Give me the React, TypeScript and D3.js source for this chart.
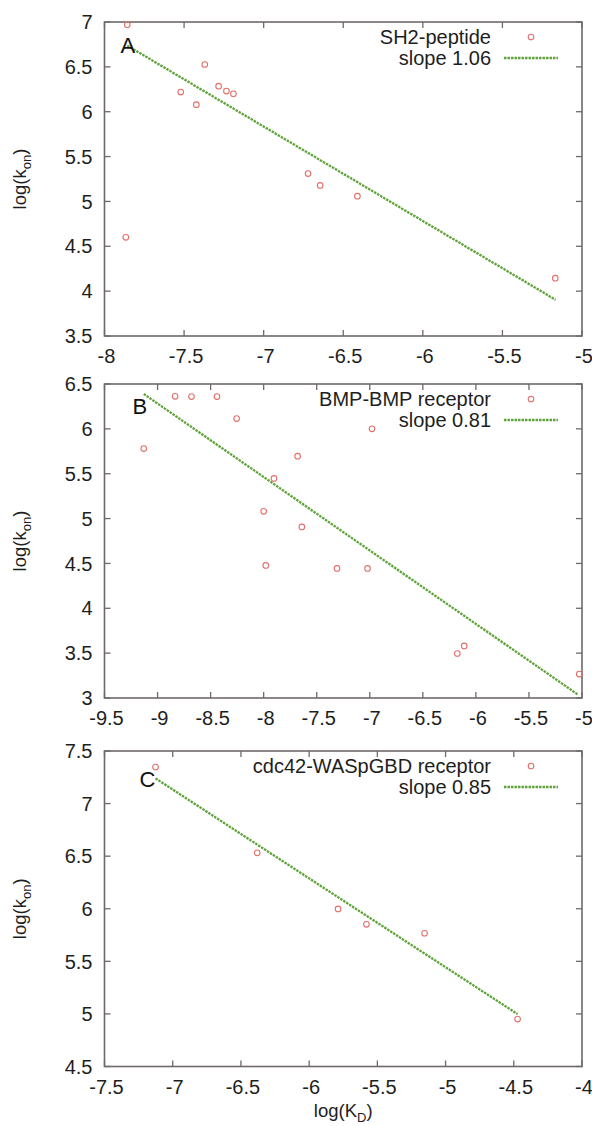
import React from "react";
import * as d3 from "d3";

// ---------- data ----------
const aX = [-7.857, -7.866, -7.521, -7.423, -7.37, -7.283, -7.234, -7.19, -6.721, -6.645, -6.411, -5.168];
const aY = [6.97, 4.6, 6.219, 6.078, 6.526, 6.285, 6.23, 6.2, 5.311, 5.178, 5.059, 4.144];
const aLineX = [-7.857, -5.166];
const aLineY = [6.737, 3.904];

const bX = [-9.13, -8.835, -8.68, -8.44, -8.255, -6.979, -7.68, -7.903, -8.0, -7.64, -7.98, -7.309, -7.021, -6.175, -6.11, -5.026];
const bY = [5.78, 6.363, 6.36, 6.36, 6.115, 6.0, 5.696, 5.448, 5.081, 4.907, 4.478, 4.444, 4.444, 3.496, 3.581, 3.267];
const bLineX = [-9.13, -5.037];
const bLineY = [6.389, 3.037];

const cX = [-7.126, -6.381, -5.788, -5.58, -5.154, -4.472];
const cY = [7.348, 6.532, 5.998, 5.852, 5.767, 4.951];
const cLineX = [-7.126, -4.472];
const cLineY = [7.24, 4.998];

const aXTicks = [-8, -7.5, -7, -6.5, -6, -5.5, -5];
const aYTicks = [3.5, 4, 4.5, 5, 5.5, 6, 6.5, 7];
const bXTicks = [-9.5, -9, -8.5, -8, -7.5, -7, -6.5, -6, -5.5, -5];
const bYTicks = [3, 3.5, 4, 4.5, 5, 5.5, 6, 6.5];
const cXTicks = [-7.5, -7, -6.5, -6, -5.5, -5, -4.5, -4];
const cYTicks = [4.5, 5, 5.5, 6, 6.5, 7, 7.5];

const labels = ["A", "B", "C"];
const seriesNames = ["SH2-peptide", "BMP-BMP receptor", "cdc42-WASpGBD receptor"];
const slopeNames = ["slope 1.06", "slope 0.81", "slope 0.85"];

// ---------- style ----------
const FONT = "'Liberation Sans', Arial, Helvetica, sans-serif";
const TEXT = "#1e1e1e";
const FRAME = "#6f6a68";
const POINT = "#e4706a";
const LINE = "#5fa43a";

type Panel = {
  xs: number[]; ys: number[]; lx: number[]; ly: number[];
  xt: number[]; yt: number[]; top: number; bottom: number;
  label: string; name: string; slope: string;
};

const LEFT = 104.5;
const RIGHT = 582;

const panels: Panel[] = [
  { xs: aX, ys: aY, lx: aLineX, ly: aLineY, xt: aXTicks, yt: aYTicks, top: 22, bottom: 336, label: labels[0], name: seriesNames[0], slope: slopeNames[0] },
  { xs: bX, ys: bY, lx: bLineX, ly: bLineY, xt: bXTicks, yt: bYTicks, top: 384, bottom: 698, label: labels[1], name: seriesNames[1], slope: slopeNames[1] },
  { xs: cX, ys: cY, lx: cLineX, ly: cLineY, xt: cXTicks, yt: cYTicks, top: 751, bottom: 1066.5, label: labels[2], name: seriesNames[2], slope: slopeNames[2] },
];

const labelOffsets = [
  { dx: 16, dy: 31 },
  { dx: 28, dy: 30 },
  { dx: 35, dy: 36 },
];

function PanelView({ p, idx }: { p: Panel; idx: number }) {
  const xd = [p.xt[0], p.xt[p.xt.length - 1]];
  const yd = [p.yt[0], p.yt[p.yt.length - 1]];
  const x = d3.scaleLinear().domain(xd).range([LEFT, RIGHT]);
  const y = d3.scaleLinear().domain(yd).range([p.bottom, p.top]);
  const line = d3.line<number>().x((_, i) => x(p.lx[i])).y((_, i) => y(p.ly[i]));
  const tl = 6;
  const lo = labelOffsets[idx];
  const midY = (p.top + p.bottom) / 2;
  return (
    <g>
      {p.xt.map((t, i) => (
        <g key={"xt" + i}>
          <line x1={x(t)} x2={x(t)} y1={p.bottom} y2={p.bottom - tl} stroke={FRAME} strokeWidth={1.3} />
          <line x1={x(t)} x2={x(t)} y1={p.top} y2={p.top + tl} stroke={FRAME} strokeWidth={1.3} />
          <text x={x(t) + 2} y={p.bottom + 27} textAnchor="middle" fontSize={20} fill={TEXT} fontFamily={FONT}>{String(t)}</text>
        </g>
      ))}
      {p.yt.map((t, i) => (
        <g key={"yt" + i}>
          <line x1={LEFT} x2={LEFT + tl} y1={y(t)} y2={y(t)} stroke={FRAME} strokeWidth={1.3} />
          <line x1={RIGHT} x2={RIGHT - tl} y1={y(t)} y2={y(t)} stroke={FRAME} strokeWidth={1.3} />
          <text x={LEFT - 12} y={y(t)} dy="0.36em" textAnchor="end" fontSize={20} fill={TEXT} fontFamily={FONT}>{String(t)}</text>
        </g>
      ))}
      <rect x={LEFT} y={p.top} width={RIGHT - LEFT} height={p.bottom - p.top} fill="none" stroke={FRAME} strokeWidth={1.6} />
      <text transform={`translate(26,${midY}) rotate(-90)`} textAnchor="middle" fontSize={18.5} fill={TEXT} fontFamily={FONT}>
        log(k<tspan fontSize={13} dy={5}>on</tspan><tspan dy={-5}>)</tspan>
      </text>
      <path d={line(p.lx) || ""} fill="none" stroke={LINE} strokeWidth={2.3} strokeDasharray="2.5,1" />
      {p.xs.map((v, i) => (
        <circle key={"pt" + i} cx={x(v)} cy={y(p.ys[i])} r={2.8} fill="none" stroke={POINT} strokeWidth={1.1} />
      ))}
      <text x={LEFT + lo.dx} y={p.top + lo.dy} fontSize={22} fill="#111" fontFamily={FONT}>{p.label}</text>
      <text x={491} y={p.top + 15} dy="0.36em" textAnchor="end" fontSize={20} fill={TEXT} fontFamily={FONT}>{p.name}</text>
      <circle cx={531} cy={p.top + 15} r={2.8} fill="none" stroke={POINT} strokeWidth={1.1} />
      <text x={491} y={p.top + 36} dy="0.36em" textAnchor="end" fontSize={20} fill={TEXT} fontFamily={FONT}>{p.slope}</text>
      <line x1={504} x2={558} y1={p.top + 36} y2={p.top + 36} stroke={LINE} strokeWidth={2.3} strokeDasharray="2.5,1" />
    </g>
  );
}

export default function App() {
  return (
    <svg width={592} height={1126} style={{ position: "absolute", left: 0, top: 0, background: "#fff" }}>
      <rect x={0} y={0} width={592} height={1126} fill="#fff" />
      {panels.map((p, i) => (
        <PanelView key={i} p={p} idx={i} />
      ))}
      <text x={(LEFT + RIGHT) / 2} y={1117} textAnchor="middle" fontSize={18.5} fill={TEXT} fontFamily={FONT}>
        log(K<tspan fontSize={13} dy={5}>D</tspan><tspan dy={-5}>)</tspan>
      </text>
    </svg>
  );
}
